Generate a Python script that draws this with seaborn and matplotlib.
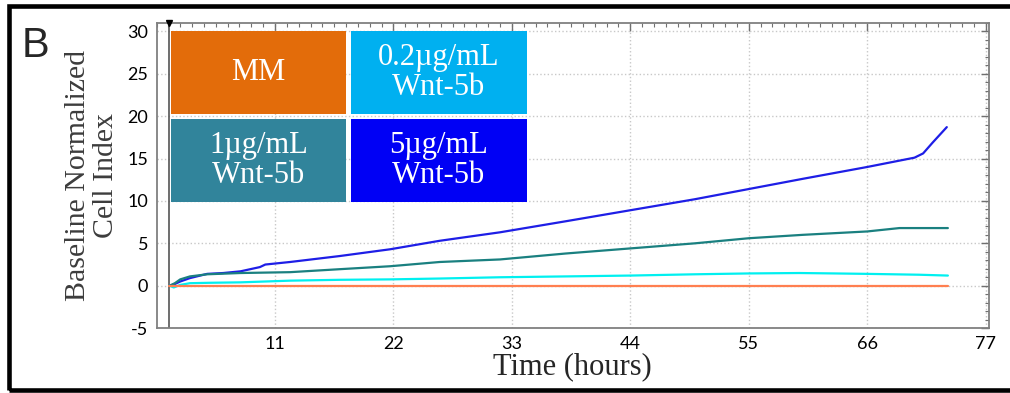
"""
Baseline normalized cell index over time for Wnt-5b doses (panel B)
"""

import numpy as np
import pandas as pd
import matplotlib
matplotlib.use('Agg')
import matplotlib.pyplot as plt
from matplotlib.patches import Rectangle
from matplotlib.ticker import MultipleLocator
import seaborn as sns

# Data (hours / cell index)
treat_time = 1.2

mm_time = [1.2, 10.0, 20.0, 30.0, 40.0, 50.0, 60.0, 70.0, 73.5]
mm_index = [0.0, 0.0, 0.0, 0.0, 0.0, 0.0, 0.0, 0.0, 0.0]

low_time = [1.2, 1.6, 2.2, 3.1, 5.0, 7.8, 12.4, 17.0, 21.7, 26.3, 31.9, 38.0,
            44.0, 50.0, 55.0, 59.7, 63.0, 66.0, 70.8, 73.5]
low_index = [0.0, -0.2, 0.1, 0.3, 0.35, 0.4, 0.6, 0.7, 0.75, 0.85, 1.0, 1.1,
             1.2, 1.35, 1.45, 1.5, 1.45, 1.4, 1.3, 1.2]

mid_time = [1.2, 1.7, 2.2, 3.1, 4.7, 7.8, 12.4, 17.0, 21.7, 26.3, 31.9, 38.0,
            44.0, 50.0, 55.0, 60.0, 66.0, 69.0, 71.5, 73.5]
mid_index = [0.0, 0.3, 0.75, 1.1, 1.35, 1.5, 1.6, 1.95, 2.3, 2.8, 3.1, 3.8,
             4.4, 5.0, 5.6, 6.0, 6.4, 6.8, 6.8, 6.8]

high_time = [1.2, 1.7, 2.2, 3.1, 4.7, 6.2, 7.8, 9.6, 10.1, 12.4, 17.0, 21.7,
             26.3, 31.9, 38.0, 44.0, 50.0, 55.0, 60.0, 66.0, 70.4, 71.2,
             72.1, 73.4]
high_index = [0.0, 0.2, 0.5, 0.9, 1.4, 1.5, 1.7, 2.2, 2.5, 2.8, 3.5, 4.3,
              5.3, 6.3, 7.6, 8.9, 10.2, 11.4, 12.6, 14.0, 15.1, 15.6,
              16.9, 18.7]

conditions = ['MM', '0.2µg/mL\nWnt-5b', '1µg/mL\nWnt-5b', '5µg/mL\nWnt-5b']
line_colors = ['#FF7F50', '#00F0F0', '#1A8080', '#1E1EE6']
box_colors = ['#E36C0A', '#00B0F0', '#31849B', '#0000F5']

x_ticks = [11, 22, 33, 44, 55, 66, 77]
y_ticks = [-5, 0, 5, 10, 15, 20, 25, 30]

SERIF = ['Liberation Serif', 'DejaVu Serif']
TICK_FONT = ['Lato', 'DejaVu Sans']


def build_frame():
    series = [(mm_time, mm_index), (low_time, low_index),
              (mid_time, mid_index), (high_time, high_index)]
    frames = []
    for name, (t, v) in zip(conditions, series):
        frames.append(pd.DataFrame({'time': t, 'index': v, 'condition': name}))
    return pd.concat(frames, ignore_index=True)


def plot_cell_index():
    sns.set_theme(style='white')
    plt.rcParams['font.family'] = SERIF
    plt.rcParams['axes.unicode_minus'] = False

    df = build_frame()

    fig = plt.figure(figsize=(10.1, 3.93), dpi=100)
    ax = fig.add_axes([0.155, 0.165, 0.824, 0.777])

    # grid first so lines sit on top
    ax.grid(True, which='major', color='#c8c8c8', linestyle=':', linewidth=1.0)
    ax.axvline(treat_time, color='#555555', linewidth=1.2, zorder=1)

    sns.lineplot(data=df, x='time', y='index', hue='condition',
                 hue_order=conditions[::-1],
                 palette=dict(zip(conditions, line_colors)),
                 linewidth=1.6, legend=False, ax=ax, zorder=3)

    ax.set_xlim(0, 77.3)
    ax.set_ylim(-5, 31)
    ax.set_xticks(x_ticks)
    ax.set_yticks(y_ticks)
    ax.xaxis.set_minor_locator(MultipleLocator(1.1))
    ax.yaxis.set_minor_locator(MultipleLocator(1))
    ax.tick_params(which='both', direction='in', top=True, right=True,
                   color='#707070', labelsize=13, labelcolor='black', pad=6)
    ax.tick_params(which='major', length=6, width=1)
    ax.tick_params(which='minor', length=3, width=0.8)
    for lbl in ax.get_xticklabels() + ax.get_yticklabels():
        lbl.set_family(TICK_FONT)
    for s in ax.spines.values():
        s.set_color('#808080')
        s.set_linewidth(1.3)

    ax.plot(treat_time, 31, marker='v', color='black', markersize=5,
            clip_on=False, zorder=5)

    ax.set_xlabel('Time (hours)', fontsize=22, labelpad=0)
    ax.set_ylabel('Baseline Normalized\nCell Index', fontsize=21.5,
                  color='#3c3c3c', linespacing=1.1, labelpad=6)

    # colour key boxes, 2 x 2 in the upper left
    box_w, box_h = 0.211, 0.272
    gap_x, gap_y = 0.006, 0.016
    x0, y_top = 0.0168, 0.974
    for i, (label, color) in enumerate(zip(conditions, box_colors)):
        col, row = i % 2, i // 2
        bx = x0 + col * (box_w + gap_x)
        by = y_top - (row + 1) * box_h - row * gap_y
        ax.add_patch(Rectangle((bx, by), box_w, box_h, transform=ax.transAxes,
                               facecolor=color, edgecolor='none', zorder=6))
        ax.text(bx + box_w / 2, by + box_h / 2, label, transform=ax.transAxes,
                ha='center', va='center', color='white', fontsize=22,
                linespacing=1.05, zorder=7)

    # panel letter and outer frame
    fig.text(0.021, 0.883, 'B', fontsize=30, ha='left', va='center',
             family=['Liberation Sans', 'DejaVu Sans'])
    fig.add_artist(Rectangle((0.0094, 0.008), 1.2, 0.978,
                             transform=fig.transFigure, fill=False,
                             edgecolor='black', linewidth=3.3))

    fig.savefig('out.png', dpi=100)


if __name__ == '__main__':
    plot_cell_index()
